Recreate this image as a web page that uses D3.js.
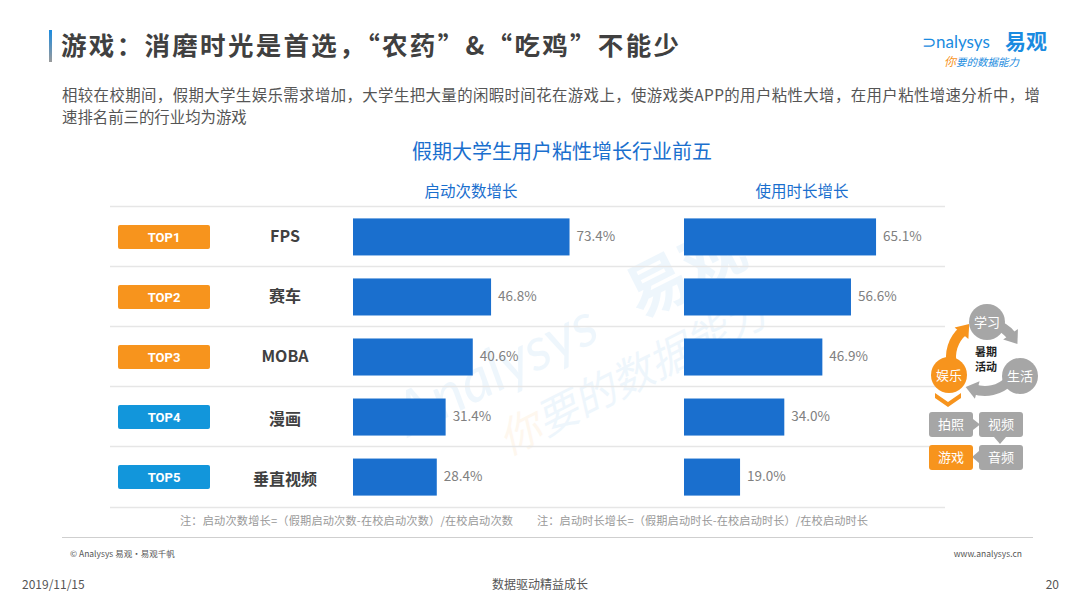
<!DOCTYPE html>
<html>
<head>
<meta charset="utf-8">
<script src="https://cdn.jsdelivr.net/npm/d3@7"></script>
<style>
  html, body { margin: 0; padding: 0; background: #fff; }
  svg { display: block; font-family: "Noto Sans CJK SC", "Noto Sans", sans-serif; }
</style>
</head>
<body>
<div class="main"></div>
<script>
const ranks = ["TOP1", "TOP2", "TOP3", "TOP4", "TOP5"];
const industries = ["FPS", "赛车", "MOBA", "漫画", "垂直视频"];
const launchGrowth = [73.4, 46.8, 40.6, 31.4, 28.4];
const durationGrowth = [65.1, 56.6, 46.9, 34.0, 19.0];
const columnTitles = ["启动次数增长", "使用时长增长"];
const rankColors = ["#f7941d", "#f7941d", "#f7941d", "#1296db", "#1296db"];

const w = 1080;
const h = 608;
const blue = "#1a6fce";

const svg = d3.select(".main").append("svg").attr("width", w).attr("height", h);

// header
svg.append("defs").append("linearGradient")
    .attr("id", "barGrad").attr("x1", 0).attr("x2", 0).attr("y1", 0).attr("y2", 1)
    .selectAll("stop")
    .data([["0%", "#1a8be0"], ["100%", "#9a9a9a"]])
    .enter().append("stop")
    .attr("offset", (d) => d[0]).attr("stop-color", (d) => d[1]);

svg.append("rect").attr("x", 49).attr("y", 30).attr("width", 3).attr("height", 32).attr("fill", "url(#barGrad)");
svg.append("text").attr("x", 61).attr("y", 55)
    .attr("font-size", 25.5).attr("font-weight", "bold").attr("fill", "#404040")
    .attr("textLength", 618).attr("lengthAdjust", "spacing")
    .text("游戏：消磨时光是首选，“农药”&“吃鸡”不能少");

// logo
const logo = svg.append("g");
logo.append("text").attr("x", 922).attr("y", 48).attr("font-size", 17).attr("fill", "#1a8be0")
    .attr("font-family", "Lato, sans-serif").text("⊃nalysys");
logo.append("text").attr("x", 1005).attr("y", 49).attr("font-size", 21).attr("font-weight", "bold").attr("fill", "#1a8be0").text("易观");
logo.append("text").attr("x", 944).attr("y", 66).attr("font-size", 12).attr("font-style", "italic")
    .call((t) => {
        t.append("tspan").attr("fill", "#f7941d").text("你");
        t.append("tspan").attr("fill", "#1a8be0").attr("font-size", 10.5).text("要的数据能力");
    });

// subtitle
const sub = svg.append("text").attr("font-size", 15.4).attr("fill", "#555");
sub.append("tspan").attr("x", 62).attr("y", 101)
    .attr("textLength", 978).attr("lengthAdjust", "spacing")
    .text("相较在校期间，假期大学生娱乐需求增加，大学生把大量的闲暇时间花在游戏上，使游戏类APP的用户粘性大增，在用户粘性增速分析中，增");
sub.append("tspan").attr("x", 62).attr("y", 123).text("速排名前三的行业均为游戏");

// watermark
const wm = svg.append("g").attr("transform", "translate(560,360) rotate(-27)").attr("opacity", 0.07);
wm.append("text").attr("x", -170).attr("y", 0).attr("font-size", 60).attr("font-style", "italic")
    .attr("fill", "#1a8be0").attr("font-family", "Lato, sans-serif").text("Analysys");
wm.append("text").attr("x", 90).attr("y", 0).attr("font-size", 62).attr("font-weight", "bold").attr("fill", "#1a8be0").text("易观");
wm.append("text").attr("x", -90).attr("y", 62).attr("font-size", 42).attr("font-style", "italic").attr("fill", "#1a8be0")
    .call((t) => {
        t.append("tspan").attr("fill", "#f7941d").text("你");
        t.append("tspan").text("要的数据能力");
    });

// chart title + column headers
svg.append("text").attr("x", 562).attr("y", 159).attr("text-anchor", "middle")
    .attr("font-size", 20).attr("fill", blue).text("假期大学生用户粘性增长行业前五");

const xLaunch = d3.scaleLinear().domain([0, 100]).range([353, 648]);
const xDuration = d3.scaleLinear().domain([0, 100]).range([684, 979]);
const y = d3.scaleBand().domain(industries).range([207, 507]).paddingInner(0.383).paddingOuter(0.19);

svg.selectAll(".col-title")
    .data(columnTitles)
    .enter().append("text")
    .attr("class", "col-title")
    .attr("x", (d, i) => (i === 0 ? 471 : 802))
    .attr("y", 197)
    .attr("text-anchor", "middle")
    .attr("font-size", 15.5).attr("fill", blue)
    .text((d) => d);

// row separators
const sepY = industries.map((d) => y(d) - y.step() * y.paddingInner() / 2 - 0.5).concat([507.5]);
svg.selectAll(".sep")
    .data(sepY)
    .enter().append("line")
    .attr("x1", 110).attr("x2", 945)
    .attr("y1", (d) => d).attr("y2", (d) => d)
    .attr("stroke", "#e6e6e6").attr("stroke-width", 1.5);

// rank badges
const rows = svg.selectAll(".row")
    .data(industries)
    .enter().append("g")
    .attr("class", "row")
    .attr("transform", (d) => `translate(0,${y(d) + y.bandwidth() / 2})`);

rows.append("rect")
    .attr("x", 118).attr("y", -12).attr("width", 92).attr("height", 24).attr("rx", 2)
    .attr("fill", (d, i) => rankColors[i]);
rows.append("text")
    .attr("x", 164).attr("y", 5).attr("text-anchor", "middle")
    .attr("font-size", 13).attr("font-weight", "bold").attr("fill", "#fff")
    .attr("font-family", "Roboto, sans-serif")
    .text((d, i) => ranks[i]);
rows.append("text")
    .attr("x", 285).attr("y", (d, i) => (i === 3 || i === 4 ? 8 : 5)).attr("text-anchor", "middle")
    .attr("font-size", 16).attr("font-weight", "bold").attr("fill", "#404040")
    .text((d) => d);

// bars
function drawBars(values, x) {
    svg.append("g").selectAll("rect")
        .data(values)
        .enter().append("rect")
        .attr("x", x(0))
        .attr("y", (d, i) => y(industries[i]))
        .attr("width", (d) => x(d) - x(0))
        .attr("height", y.bandwidth())
        .attr("fill", blue);
    svg.append("g").selectAll("text")
        .data(values)
        .enter().append("text")
        .attr("x", (d) => x(d) + 7)
        .attr("y", (d, i) => y(industries[i]) + y.bandwidth() / 2 + 4)
        .attr("font-size", 13.5).attr("fill", "#808080")
        .text((d) => d.toFixed(1) + "%");
}
drawBars(launchGrowth, xLaunch);
drawBars(durationGrowth, xDuration);

// footnotes
svg.append("text").attr("x", 180).attr("y", 525).attr("font-size", 11.2).attr("fill", "#999")
    .attr("textLength", 333).attr("lengthAdjust", "spacing")
    .text("注：启动次数增长=（假期启动次数-在校启动次数）/在校启动次数");
svg.append("text").attr("x", 537).attr("y", 525).attr("font-size", 11.2).attr("fill", "#999")
    .attr("textLength", 331).attr("lengthAdjust", "spacing")
    .text("注：启动时长增长=（假期启动时长-在校启动时长）/在校启动时长");

// side diagram
const side = svg.append("g");
const grey = "#a6a6a6";
const orange = "#f7941d";
// cycle arrows
const cx = 985, cy = 357, rr = 34;
const arcGen = d3.arc().innerRadius(rr - 5).outerRadius(rr + 5);
const toRad = (deg) => deg * Math.PI / 180;
side.append("path").attr("transform", `translate(${cx},${cy})`)
    .attr("d", arcGen({ startAngle: toRad(15), endAngle: toRad(50) })).attr("fill", grey);
side.append("path").attr("transform", `translate(${cx},${cy})`)
    .attr("d", arcGen({ startAngle: toRad(135), endAngle: toRad(200) })).attr("fill", grey);
side.append("path").attr("transform", `translate(${cx},${cy})`)
    .attr("d", arcGen({ startAngle: toRad(255), endAngle: toRad(320) })).attr("fill", orange);
function head(angleDeg, color, rot) {
    const a = toRad(angleDeg);
    const px = cx + rr * Math.sin(a), py = cy - rr * Math.cos(a);
    side.append("path")
        .attr("transform", `translate(${px},${py}) rotate(${rot})`)
        .attr("d", "M-9,-4 L0,8 L9,-4 Z").attr("fill", color);
}
head(55, grey, -35);
head(200, grey, 105);
head(322, orange, 220);

const circles = [
    { label: "学习", x: 987, y: 322, c: grey },
    { label: "生活", x: 1020, y: 376, c: grey },
    { label: "娱乐", x: 949, y: 375, c: orange }
];
side.selectAll(".cyc").data(circles).enter().append("circle")
    .attr("cx", (d) => d.x).attr("cy", (d) => d.y).attr("r", 18).attr("fill", (d) => d.c);
side.selectAll(".cyct").data(circles).enter().append("text")
    .attr("x", (d) => d.x).attr("y", (d) => d.y + 5).attr("text-anchor", "middle")
    .attr("font-size", 13).attr("fill", "#fff").text((d) => d.label);
side.append("text").attr("x", 986).attr("y", 356).attr("text-anchor", "middle")
    .attr("font-size", 11).attr("font-weight", "bold").attr("fill", "#222").text("暑期");
side.append("text").attr("x", 986).attr("y", 371).attr("text-anchor", "middle")
    .attr("font-size", 11).attr("font-weight", "bold").attr("fill", "#222").text("活动");
// chevron
side.append("path").attr("d", "M935,393 L948,402 L961,393 L961,398 L948,407 L935,398 Z").attr("fill", orange);

const boxes = [
    { label: "拍照", x: 929, y: 412, c: grey },
    { label: "视频", x: 979, y: 412, c: grey },
    { label: "游戏", x: 929, y: 445, c: orange },
    { label: "音频", x: 979, y: 445, c: grey }
];
// pointers between boxes
side.append("path").attr("d", "M973,419 L980,424.5 L973,430 Z").attr("fill", grey);
side.append("path").attr("d", "M994,437 L1000,444 L1006,437 Z").attr("fill", grey);
side.append("path").attr("d", "M979,451 L972,457 L979,463 Z").attr("fill", grey);
side.selectAll(".box").data(boxes).enter().append("rect")
    .attr("x", (d) => d.x).attr("y", (d) => d.y).attr("width", 44).attr("height", 25).attr("rx", 3)
    .attr("fill", (d) => d.c);
side.selectAll(".boxt").data(boxes).enter().append("text")
    .attr("x", (d) => d.x + 22).attr("y", (d) => d.y + 17).attr("text-anchor", "middle")
    .attr("font-size", 13).attr("fill", "#fff").text((d) => d.label);

// footer
svg.append("line").attr("x1", 62).attr("x2", 1033).attr("y1", 537.5).attr("y2", 537.5)
    .attr("stroke", "#cfcfcf").attr("stroke-width", 1);
svg.append("text").attr("x", 70).attr("y", 557).attr("font-size", 8.5).attr("fill", "#555")
    .text("© Analysys 易观·易观千帆");
svg.append("text").attr("x", 1022).attr("y", 557).attr("text-anchor", "end").attr("font-size", 8.5).attr("fill", "#555")
    .text("www.analysys.cn");
svg.append("text").attr("x", 22).attr("y", 589).attr("font-size", 12).attr("fill", "#555").text("2019/11/15");
svg.append("text").attr("x", 540).attr("y", 589).attr("text-anchor", "middle").attr("font-size", 12).attr("fill", "#555").text("数据驱动精益成长");
svg.append("text").attr("x", 1059).attr("y", 589).attr("text-anchor", "end").attr("font-size", 12).attr("fill", "#555").text("20");
</script>
</body>
</html>
